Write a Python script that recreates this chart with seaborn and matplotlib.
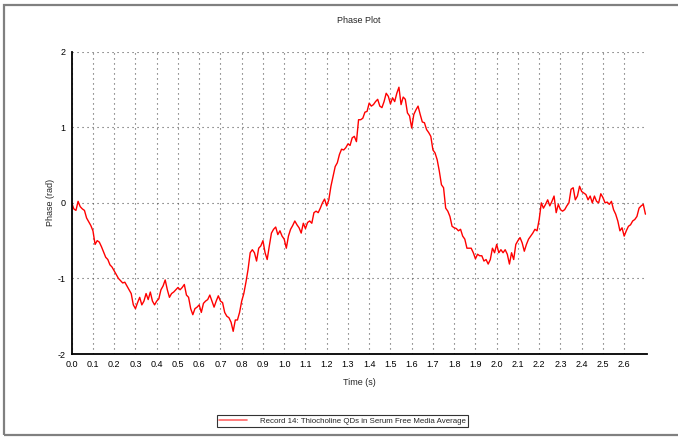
import numpy as np
import pandas as pd
import matplotlib
matplotlib.use("Agg")
import matplotlib.pyplot as plt
import seaborn as sns
from matplotlib.patches import Rectangle
from matplotlib.ticker import MultipleLocator, FixedLocator
from matplotlib.lines import Line2D

# ---- data ----
time_s = [round(0.01 * i, 2) for i in range(0, 271)]
phase_rad = [
    0.00, -0.08, -0.10, 0.02, -0.05, -0.08, -0.10, -0.20, -0.25, -0.30,
    -0.37, -0.55, -0.50, -0.52, -0.58, -0.65, -0.72, -0.75, -0.82, -0.85,
    -0.90, -0.95, -1.00, -1.03, -1.06, -1.05, -1.10, -1.15, -1.20, -1.35,
    -1.40, -1.32, -1.25, -1.35, -1.30, -1.20, -1.28, -1.18, -1.30, -1.35,
    -1.30, -1.27, -1.15, -1.10, -1.02, -1.15, -1.25, -1.20, -1.18, -1.15,
    -1.12, -1.15, -1.12, -1.08, -1.22, -1.25, -1.40, -1.48, -1.40, -1.38,
    -1.35, -1.45, -1.33, -1.30, -1.28, -1.22, -1.30, -1.38, -1.30, -1.23,
    -1.30, -1.32, -1.45, -1.50, -1.52, -1.58, -1.70, -1.55, -1.55, -1.45,
    -1.30, -1.20, -1.05, -0.88, -0.66, -0.62, -0.66, -0.77, -0.60, -0.57,
    -0.50, -0.66, -0.75, -0.57, -0.40, -0.35, -0.32, -0.42, -0.37, -0.44,
    -0.48, -0.60, -0.44, -0.35, -0.30, -0.24, -0.29, -0.33, -0.40, -0.27,
    -0.34, -0.26, -0.24, -0.27, -0.13, -0.11, -0.13, -0.07, 0.00, 0.05,
    -0.04, 0.04, 0.22, 0.35, 0.48, 0.53, 0.64, 0.71, 0.70, 0.73,
    0.78, 0.76, 0.86, 0.88, 0.81, 1.10, 1.10, 1.12, 1.20, 1.21,
    1.32, 1.28, 1.30, 1.34, 1.37, 1.28, 1.26, 1.34, 1.45, 1.41,
    1.31, 1.39, 1.34, 1.45, 1.53, 1.30, 1.40, 1.37, 1.19, 1.15,
    0.99, 1.17, 1.23, 1.28, 1.17, 1.07, 1.06, 0.97, 0.93, 0.88,
    0.70, 0.66, 0.57, 0.42, 0.24, 0.20, -0.07, -0.11, -0.18, -0.31,
    -0.33, -0.34, -0.37, -0.35, -0.44, -0.48, -0.60, -0.60, -0.60, -0.66,
    -0.74, -0.68, -0.70, -0.70, -0.77, -0.75, -0.81, -0.75, -0.60, -0.66,
    -0.55, -0.66, -0.62, -0.66, -0.62, -0.68, -0.81, -0.66, -0.75, -0.55,
    -0.50, -0.46, -0.53, -0.64, -0.55, -0.48, -0.44, -0.40, -0.35, -0.37,
    -0.22, 0.00, -0.07, -0.02, 0.04, -0.04, 0.02, 0.09, -0.13, -0.02,
    -0.09, -0.11, -0.09, -0.04, 0.00, 0.18, 0.20, 0.04, 0.09, 0.22,
    0.15, 0.13, 0.11, 0.04, 0.09, 0.00, 0.09, 0.02, 0.00, 0.12,
    0.07, 0.00, 0.01, -0.02, 0.02, -0.09, -0.15, -0.24, -0.37, -0.33,
    -0.44, -0.37, -0.31, -0.29, -0.24, -0.22, -0.18, -0.07, -0.04, -0.02,
    -0.15,
]
x_tick_labels = [f"{v:.1f}" for v in np.arange(0, 27) / 10]
y_ticks = [-2, -1, 0, 1, 2]
series_name = "Record 14: Thiocholine QDs in Serum Free Media Average"

df = pd.DataFrame({"Time (s)": time_s, "Phase (rad)": phase_rad,
                   "series": series_name})

sns.set_style("white")
plt.rcParams["font.family"] = ["Liberation Sans", "DejaVu Sans"]

W, H = 678, 437
fig = plt.figure(figsize=(W / 100, H / 100), dpi=100)
ax = fig.add_axes([71.7 / W, (H - 354) / H, (646.7 - 71.7) / W, (354 - 51.7) / H])

sns.lineplot(data=df, x="Time (s)", y="Phase (rad)", hue="series",
             palette=["#ff0000"], linewidth=1.0, ax=ax, legend=False)

ax.set_xlim(0, 2.706)
ax.set_ylim(-2, 2)

xt = [i / 10 for i in range(len(x_tick_labels))]
ax.xaxis.set_major_locator(FixedLocator(xt))
ax.set_xticklabels(x_tick_labels)
ax.xaxis.set_minor_locator(FixedLocator([0.05 + i * 0.1 for i in range(27)] + [2.706]))
ax.yaxis.set_major_locator(FixedLocator(y_ticks))
ax.set_yticklabels([str(v) for v in y_ticks])
ax.yaxis.set_minor_locator(MultipleLocator(0.5))

ax.tick_params(axis="both", which="major", direction="inout", length=5,
               width=0.8, labelsize=6.5, colors="black", pad=2)
ax.tick_params(axis="both", which="minor", direction="inout", length=4,
               width=0.8, colors="black")

ax.grid(True, which="major", linestyle=(0, (1, 3.5)), color="#555555", linewidth=0.8)
for s in ["top", "right"]:
    ax.spines[s].set_visible(False)
for s in ["left", "bottom"]:
    ax.spines[s].set_color("black")
    ax.spines[s].set_linewidth(1.3)

ax.set_xlabel("Time (s)", fontsize=6.5, labelpad=6)
ax.set_ylabel("Phase (rad)", fontsize=6.5, labelpad=1.5)
ax.set_title("Phase Plot", fontsize=6.5, pad=21)

# legend
handle = Line2D([], [], color="#ff6666", linewidth=1.2)
fig.legend([handle], [series_name], loc="center",
           bbox_to_anchor=(342.5 / W, 1 - 421 / H), fontsize=5.7,
           frameon=True, fancybox=False, edgecolor="black", borderpad=0.3,
           handlelength=3.6, handletextpad=1.6, borderaxespad=0)
leg = fig.legends[0]
leg.get_frame().set_linewidth(0.8)

# outer frame
fig.patches.append(Rectangle((4 / W, 2 / H), 1.2, (H - 7) / H,
                             transform=fig.transFigure, fill=False,
                             edgecolor="#808080", linewidth=1.6))

fig.savefig("out.png", dpi=100)
